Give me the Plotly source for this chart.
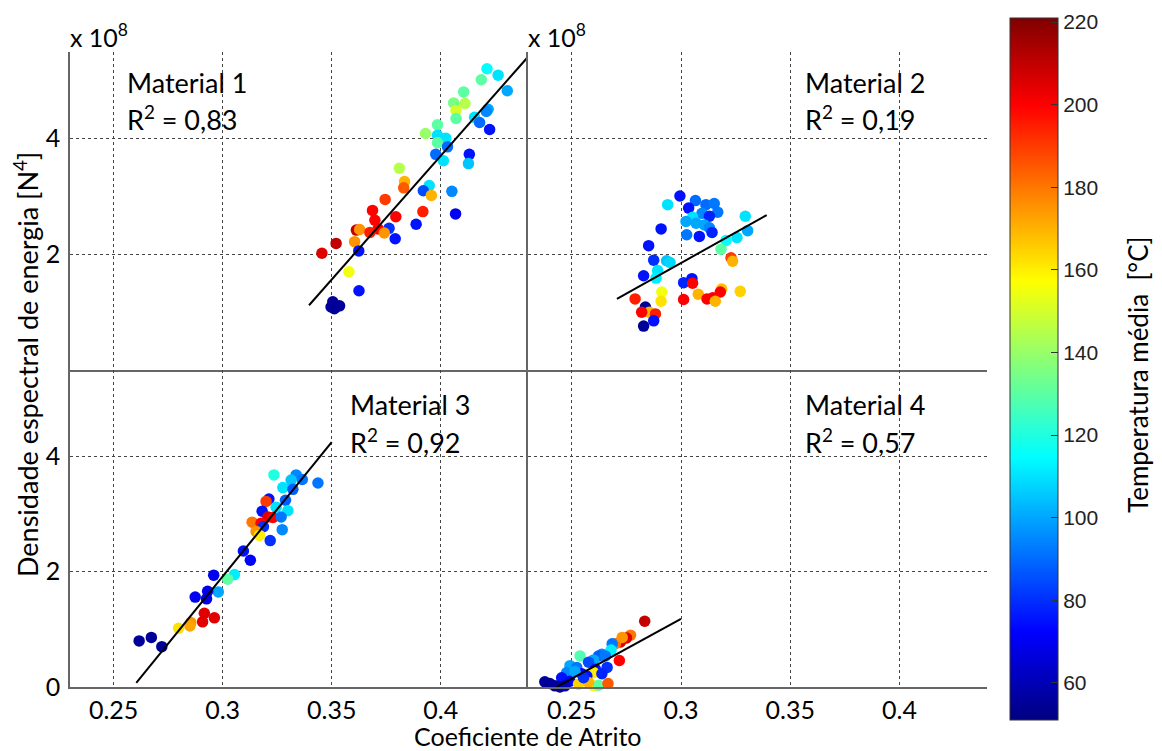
import plotly.graph_objects as go

# ---------------- DATA ----------------
# Material 1 (x: coeficiente de atrito, y: densidade x1e8, t: temperatura)
m1_x = [0.4212, 0.4263, 0.4186, 0.4305, 0.4105, 0.4059, 0.4111, 0.4070, 0.4070, 0.4217,
        0.4209, 0.4155, 0.4178, 0.4224, 0.3985, 0.3930, 0.3985, 0.4023, 0.3985, 0.4031,
        0.3977, 0.4012, 0.4131, 0.4127, 0.3810, 0.3834, 0.3830, 0.3947, 0.3920, 0.3957,
        0.4051, 0.3745, 0.3687, 0.3918, 0.4068, 0.3698, 0.3794, 0.3887, 0.3613, 0.3628,
        0.3713, 0.3675, 0.3763, 0.3741, 0.3605, 0.3791, 0.3520, 0.3624, 0.3455, 0.3579,
        0.3625, 0.3505, 0.3520, 0.3497, 0.3536, 0.3512]
m1_y = [5.21, 5.10, 5.02, 4.83, 4.81, 4.62, 4.61, 4.49, 4.35, 4.51,
        4.47, 4.37, 4.28, 4.16, 4.24, 4.09, 4.06, 4.01, 3.93, 3.86,
        3.73, 3.62, 3.73, 3.57, 3.49, 3.26, 3.15, 3.19, 3.10, 3.02,
        3.09, 2.95, 2.76, 2.74, 2.70, 2.59, 2.65, 2.52, 2.42, 2.43,
        2.44, 2.38, 2.45, 2.37, 2.22, 2.27, 2.19, 2.06, 2.02, 1.70,
        1.37, 1.18, 1.09, 1.09, 1.11, 1.06]
m1_t = [115, 110, 130, 100, 130, 135, 145, 150, 130, 100,
        95, 110, 90, 75, 130, 140, 110, 110, 130, 90,
        90, 110, 75, 105, 145, 170, 185, 110, 85, 170,
        95, 190, 200, 195, 70, 200, 200, 75, 210, 175,
        200, 195, 80, 175, 175, 75, 210, 75, 205, 155,
        75, 55, 55, 55, 55, 55]
m1_fit_x = [0.3396, 0.4415]
m1_fit_y = [1.12, 5.48]

# Material 2
m2_x = [0.2995, 0.2939, 0.3066, 0.3114, 0.3152, 0.3035, 0.3096, 0.3168, 0.3053, 0.3130,
        0.3023, 0.3069, 0.3107, 0.3130, 0.3142, 0.3084, 0.3026, 0.3294, 0.3305, 0.3256,
        0.3206, 0.3183, 0.2909, 0.2852, 0.2875, 0.2934, 0.2950, 0.3229, 0.3236, 0.2893,
        0.2886, 0.2829, 0.3012, 0.3050, 0.3053, 0.2912, 0.2909, 0.3079, 0.3186, 0.3180,
        0.3271, 0.3012, 0.3119, 0.3145, 0.3157, 0.2790, 0.2837, 0.2855, 0.2820, 0.2883,
        0.2875, 0.2829]
m2_y = [3.01, 2.86, 2.93, 2.86, 2.88, 2.80, 2.71, 2.73, 2.64, 2.66,
        2.57, 2.54, 2.51, 2.46, 2.38, 2.31, 2.34, 2.66, 2.41, 2.29,
        2.24, 2.09, 2.44, 2.15, 1.90, 1.89, 1.86, 1.94, 1.88, 1.72,
        1.59, 1.63, 1.51, 1.58, 1.50, 1.35, 1.19, 1.31, 1.40, 1.35,
        1.36, 1.22, 1.23, 1.25, 1.19, 1.23, 1.09, 1.00, 1.00, 0.97,
        0.85, 0.76]
m2_t = [75, 110, 90, 90, 92, 75, 95, 92, 110, 78,
        100, 100, 100, 95, 78, 75, 92, 110, 100, 110,
        115, 130, 75, 75, 80, 105, 108, 190, 170, 110,
        112, 75, 78, 75, 200, 155, 162, 170, 168, 200,
        165, 200, 200, 200, 170, 195, 55, 170, 200, 195,
        75, 55]
m2_fit_x = [0.2707, 0.3392]
m2_fit_y = [1.23, 2.68]

# Material 3
m3_x = [0.3235, 0.3337, 0.3365, 0.3314, 0.3437, 0.3276, 0.3322, 0.3288, 0.3212, 0.3199,
        0.3245, 0.3299, 0.3181, 0.3207, 0.3230, 0.3268, 0.3135, 0.3176, 0.3187, 0.3153,
        0.3169, 0.3273, 0.3218, 0.3095, 0.3127, 0.2959, 0.3054, 0.3023, 0.2980, 0.2931,
        0.2874, 0.2926, 0.2916, 0.2962, 0.2908, 0.2854, 0.2850, 0.2798, 0.2617, 0.2673,
        0.2721]
m3_y = [3.68, 3.68, 3.60, 3.59, 3.54, 3.46, 3.43, 3.24, 3.26, 3.22,
        3.12, 3.06, 3.05, 2.95, 2.94, 2.95, 2.86, 2.84, 2.78, 2.70,
        2.63, 2.73, 2.54, 2.36, 2.20, 1.94, 1.95, 1.87, 1.65, 1.66,
        1.56, 1.53, 1.28, 1.20, 1.13, 1.12, 1.06, 1.02, 0.80, 0.86,
        0.70]
m3_t = [120, 95, 92, 105, 92, 110, 88, 88, 75, 190,
        110, 110, 75, 205, 200, 92, 180, 200, 80, 175,
        160, 95, 80, 75, 72, 70, 112, 130, 100, 70,
        70, 68, 205, 205, 205, 175, 172, 162, 55, 55,
        55]
m3_fit_x = [0.2604, 0.3500]
m3_fit_y = [0.07, 4.25]

# Material 4
m4_x = [0.2834, 0.2769, 0.2751, 0.2723, 0.2700, 0.2685, 0.2680, 0.2718, 0.2638, 0.2623,
        0.2538, 0.2600, 0.2577, 0.2662, 0.2492, 0.2523, 0.2608, 0.2477, 0.2546, 0.2600,
        0.2569, 0.2454, 0.2492, 0.2377, 0.2400, 0.2423, 0.2446, 0.2469, 0.2531, 0.2600,
        0.2623, 0.2666, 0.2577, 0.2554, 0.2638, 0.2515, 0.2654, 0.2731]
m4_y = [1.14, 0.90, 0.85, 0.78, 0.75, 0.75, 0.64, 0.46, 0.57, 0.54,
        0.54, 0.47, 0.43, 0.34, 0.37, 0.34, 0.31, 0.25, 0.23, 0.25,
        0.19, 0.16, 0.10, 0.09, 0.06, 0.02, 0.00, 0.02, 0.05, 0.02,
        0.03, 0.06, 0.08, 0.16, 0.23, 0.27, 0.54, 0.86]
m4_t = [210, 180, 205, 205, 180, 92, 112, 200, 95, 88,
        128, 100, 85, 80, 100, 92, 75, 95, 72, 160,
        75, 75, 72, 55, 55, 55, 55, 60, 165, 155,
        130, 185, 170, 80, 78, 100, 92, 175]
m4_fit_x = [0.2431, 0.3000]
m4_fit_y = [0.00, 1.18]

materials = ["Material 1", "Material 2", "Material 3", "Material 4"]
r2_labels = ["0,83", "0,19", "0,92", "0,57"]
x_ticks = [0.25, 0.3, 0.35, 0.4]
x_tick_text = ["0.25", "0.3", "0.35", "0.4"]
cbar_ticks = [60, 80, 100, 120, 140, 160, 180, 200, 220]
t_min, t_max = 51, 221

# ---------------- STYLE ----------------
W, H = 1162, 751
FONT = "Lato"
jet = [[0.0, "rgb(0,0,128)"], [0.125, "rgb(0,0,255)"], [0.375, "rgb(0,255,255)"],
       [0.625, "rgb(255,255,0)"], [0.875, "rgb(255,0,0)"], [1.0, "rgb(128,0,0)"]]

def px_x(p):
    return p / W

def px_y(p):
    return 1 - p / H

xL = [px_x(70), px_x(528)]
xR = [px_x(528), px_x(987)]
yT = [px_y(370), px_y(52)]
yB = [px_y(687), px_y(370)]

fig = go.Figure()

panels = [
    (m1_x, m1_y, m1_t, m1_fit_x, m1_fit_y, "x", "y"),
    (m2_x, m2_y, m2_t, m2_fit_x, m2_fit_y, "x2", "y2"),
    (m3_x, m3_y, m3_t, m3_fit_x, m3_fit_y, "x3", "y3"),
    (m4_x, m4_y, m4_t, m4_fit_x, m4_fit_y, "x4", "y4"),
]
for (xs, ys, ts, fx, fy, xa, ya) in panels:
    fig.add_trace(go.Scatter(x=xs, y=ys, mode="markers", xaxis=xa, yaxis=ya,
                             marker=dict(size=11.5, color=ts, coloraxis="coloraxis", line=dict(width=0)),
                             cliponaxis=False, showlegend=False, hoverinfo="skip"))
    fig.add_trace(go.Scatter(x=fx, y=fy, mode="lines", xaxis=xa, yaxis=ya,
                             line=dict(color="black", width=2), showlegend=False, hoverinfo="skip"))

grid = dict(showgrid=True, gridcolor="#444", gridwidth=1, griddash="3px,3px", zeroline=False,
            showline=True, linecolor="#666", linewidth=1.5, ticks="", mirror=False, automargin=False)

xcommon = dict(range=[0.23, 0.44], tickvals=x_ticks, ticktext=x_tick_text, **grid)
tickfont = dict(family=FONT, size=25, color="black")

fig.update_layout(
    template="none",
    width=W, height=H, margin=dict(l=0, r=0, t=0, b=0, autoexpand=False),
    plot_bgcolor="white", paper_bgcolor="white",
    xaxis=dict(domain=xL, anchor="y", showticklabels=False, **xcommon),
    xaxis2=dict(domain=xR, anchor="y2", showticklabels=False, **xcommon),
    xaxis3=dict(domain=xL, anchor="y3", showticklabels=True, tickfont=tickfont,
                ticklabelstandoff=0, **xcommon),
    xaxis4=dict(domain=xR, anchor="y4", showticklabels=True, tickfont=tickfont,
                ticklabelstandoff=0, **xcommon),
    yaxis=dict(domain=yT, anchor="x", range=[0, 5.5], tickvals=[2, 4], showticklabels=True,
               tickfont=tickfont, ticklabelstandoff=3, **grid),
    yaxis2=dict(domain=yT, anchor="x2", range=[0, 5.5], tickvals=[2, 4], showticklabels=False, **grid),
    yaxis3=dict(domain=yB, anchor="x3", range=[0, 5.5], tickvals=[0, 2, 4], showticklabels=True,
                tickfont=tickfont, ticklabelstandoff=3, **grid),
    yaxis4=dict(domain=yB, anchor="x4", range=[0, 5.5], tickvals=[0, 2, 4], showticklabels=False, **grid),
    coloraxis=dict(
        colorscale=jet, cmin=t_min, cmax=t_max,
        colorbar=dict(x=px_x(1010), xanchor="left", xref="paper",
                      y=px_y(369), yanchor="middle", len=702, lenmode="pixels",
                      thickness=48, thicknessmode="pixels",
                      outlinecolor="#333", outlinewidth=1,
                      tickvals=cbar_ticks, ticks="inside", ticklen=7, tickcolor="#333",
                      tickfont=dict(family="Liberation Sans", size=21, color="#222"),
                      ypad=0, xpad=0),
    ),
)

ann = []
# material labels
mat_pos = [(125, 82), (803, 82), (348, 405), (803, 405)]
for (name, r2, (ax, ay)) in zip(materials, r2_labels, mat_pos):
    ann.append(dict(x=px_x(ax), y=px_y(ay), xref="paper", yref="paper", xanchor="left", yanchor="middle",
                    text=name, showarrow=False, font=dict(family=FONT, size=27, color="black")))
    ann.append(dict(x=px_x(ax), y=px_y(ay + 36), xref="paper", yref="paper", xanchor="left", yanchor="middle",
                    text="R<sup>2</sup> = " + r2, showarrow=False, font=dict(family=FONT, size=27, color="black")))
# exponent labels
for ex in (68, 526):
    ann.append(dict(x=px_x(ex), y=px_y(36), xref="paper", yref="paper", xanchor="left", yanchor="middle",
                    text="x 10<sup>8</sup>", showarrow=False, font=dict(family=FONT, size=25, color="black")))
# axis titles
ann.append(dict(x=px_x(528), y=px_y(736), xref="paper", yref="paper", xanchor="center", yanchor="middle",
                text="Coeficiente de Atrito", showarrow=False, font=dict(family=FONT, size=25, color="black")))
ann.append(dict(x=px_x(26), y=px_y(365), xref="paper", yref="paper", xanchor="center", yanchor="middle",
                text="Densidade espectral de energia [N<sup>4</sup>]", textangle=-90, showarrow=False,
                font=dict(family=FONT, size=27, color="black")))
ann.append(dict(x=px_x(1138), y=px_y(375), xref="paper", yref="paper", xanchor="center", yanchor="middle",
                text="Temperatura média  [°C]", textangle=-90, showarrow=False,
                font=dict(family=FONT, size=26, color="black")))
fig.update_layout(annotations=ann)

fig.write_html("out.html")
